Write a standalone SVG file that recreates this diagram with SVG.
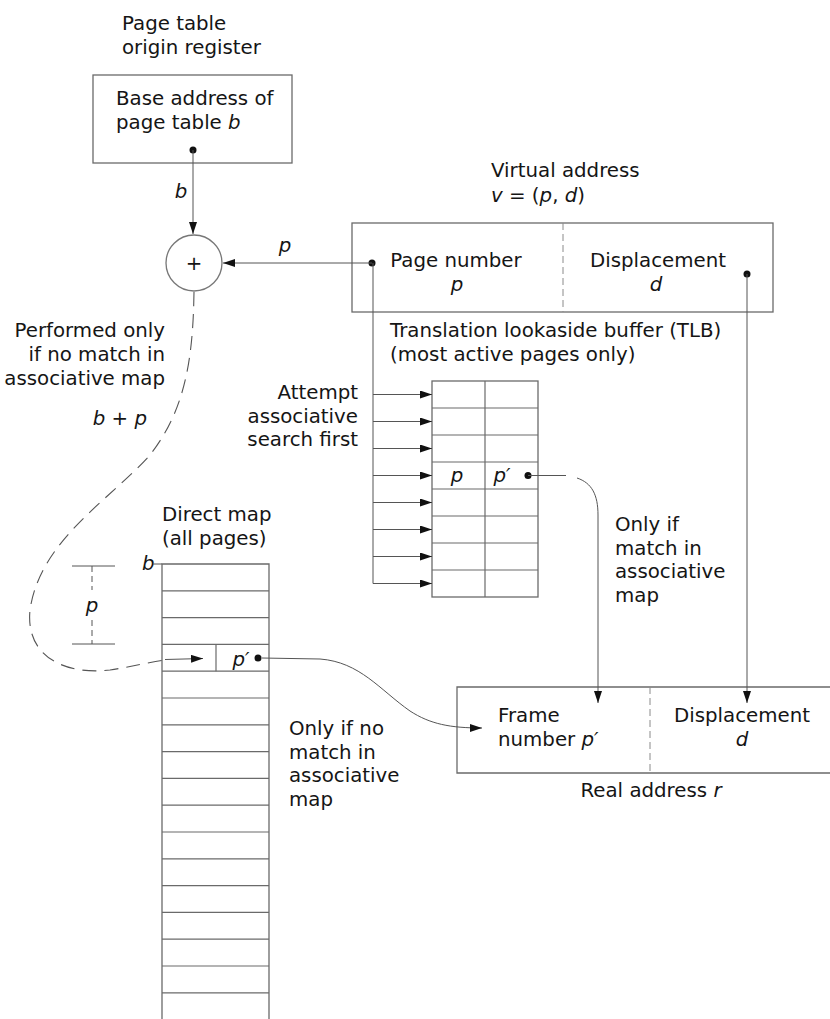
<svg xmlns="http://www.w3.org/2000/svg" width="830" height="1019" viewBox="0 0 830 1019">
<style>
text{font-family:"DejaVu Sans","Noto Sans","Liberation Sans",sans-serif;font-size:19.8px;fill:#151515}
.i{font-style:italic}
.box{fill:none;stroke:#6a6a6a;stroke-width:1.3}
.div{fill:none;stroke:#8a8a8a;stroke-width:1;stroke-dasharray:7 4}
.ln{fill:none;stroke:#555;stroke-width:1}
.dash{fill:none;stroke:#555;stroke-width:1.1;stroke-dasharray:14 8}
.row{stroke:#6a6a6a;stroke-width:1.2}
.dot{fill:#111}
</style>
<defs>
<marker id="ah" markerWidth="12" markerHeight="8" refX="12" refY="4" orient="auto" markerUnits="userSpaceOnUse"><path d="M0,0 L12,4 L0,8 z" fill="#111"/></marker>
</defs>

<g id="origin-register">
<text x="122" y="30">Page table<tspan x="122" dy="23.5">origin register</tspan></text>
<rect class="box" x="93" y="75" width="199" height="88"/>
<text x="116" y="105">Base address of<tspan x="116" dy="23.5">page table </tspan><tspan class="i">b</tspan></text>
<circle class="dot" cx="193" cy="150" r="3.5"/>
</g>

<g id="adder">
<circle cx="194" cy="263" r="28" fill="none" stroke="#777" stroke-width="1.3"/>
<text x="194" y="270" text-anchor="middle" font-size="18">+</text>
</g>

<g id="virtual-address">
<text x="491" y="177">Virtual address<tspan x="491" dy="25" class="i">v</tspan> = (<tspan class="i">p</tspan>, <tspan class="i">d</tspan>)</text>
<rect class="box" x="352" y="223" width="421" height="89"/>
<line class="div" x1="563" y1="223" x2="563" y2="312"/>
<text x="456" y="267" text-anchor="middle">Page number<tspan x="457" dy="23.5" class="i">p</tspan></text>
<text x="658" y="267" text-anchor="middle">Displacement<tspan x="656" dy="23.5" class="i">d</tspan></text>
<circle class="dot" cx="372" cy="263" r="3.5"/>
<circle class="dot" cx="747" cy="274" r="3.5"/>
</g>

<g id="tlb">
<text x="390" y="337">Translation lookaside buffer (TLB)<tspan x="390" dy="23.5">(most active pages only)</tspan></text>
<text x="358" y="399" text-anchor="end">Attempt<tspan x="358" dy="23.5">associative</tspan><tspan x="358" dy="23.5">search first</tspan></text>
<rect class="box" x="432" y="381" width="106" height="216"/>
<line class="row" x1="485" y1="381" x2="485" y2="597"/>
<g class="row">
<line x1="432" y1="408" x2="538" y2="408"/>
<line x1="432" y1="435" x2="538" y2="435"/>
<line x1="432" y1="462" x2="538" y2="462"/>
<line x1="432" y1="489" x2="538" y2="489"/>
<line x1="432" y1="516" x2="538" y2="516"/>
<line x1="432" y1="543" x2="538" y2="543"/>
<line x1="432" y1="570" x2="538" y2="570"/>
</g>
<text x="457" y="482" text-anchor="middle" class="i">p</text>
<text x="502" y="482" text-anchor="middle" class="i">p′</text>
<circle class="dot" cx="528" cy="475.5" r="3.5"/>
</g>

<g id="direct-map">
<text x="162" y="521">Direct map<tspan x="162" dy="23.5">(all pages)</tspan></text>
<text x="142" y="570" class="i">b</text>
<line class="ln" x1="153" y1="564" x2="162" y2="564"/>
<path class="box" d="M162,1020 V564 H269 V1020"/>
<g class="row">
<line x1="162" y1="590.8" x2="269" y2="590.8"/>
<line x1="162" y1="617.6" x2="269" y2="617.6"/>
<line x1="162" y1="644.4" x2="269" y2="644.4"/>
<line x1="162" y1="671.2" x2="269" y2="671.2"/>
<line x1="162" y1="698" x2="269" y2="698"/>
<line x1="162" y1="724.8" x2="269" y2="724.8"/>
<line x1="162" y1="751.6" x2="269" y2="751.6"/>
<line x1="162" y1="778.4" x2="269" y2="778.4"/>
<line x1="162" y1="805.2" x2="269" y2="805.2"/>
<line x1="162" y1="832" x2="269" y2="832"/>
<line x1="162" y1="858.8" x2="269" y2="858.8"/>
<line x1="162" y1="885.6" x2="269" y2="885.6"/>
<line x1="162" y1="912.4" x2="269" y2="912.4"/>
<line x1="162" y1="939.2" x2="269" y2="939.2"/>
<line x1="162" y1="966" x2="269" y2="966"/>
<line x1="162" y1="992.8" x2="269" y2="992.8"/>
<line x1="216" y1="644.4" x2="216" y2="671.2"/>
</g>
<text x="241" y="666" text-anchor="middle" class="i">p′</text>
<circle class="dot" cx="258" cy="658" r="3.5"/>
<line class="ln" x1="72" y1="566" x2="115" y2="566"/>
<line class="ln" x1="72" y1="644" x2="115" y2="644"/>
<line class="ln" x1="92" y1="566" x2="92" y2="590" stroke-dasharray="6 4"/>
<line class="ln" x1="92" y1="620" x2="92" y2="644" stroke-dasharray="6 4"/>
<text x="92" y="612" text-anchor="middle" class="i">p</text>
</g>

<g id="real-address">
<path class="box" d="M832,687 H457 V773 H832"/>
<line class="div" x1="650" y1="687" x2="650" y2="773"/>
<text x="498" y="722">Frame<tspan x="498" dy="24">number </tspan><tspan class="i">p′</tspan></text>
<text x="742" y="722" text-anchor="middle">Displacement<tspan x="742" dy="24" class="i">d</tspan></text>
<text x="651" y="797" text-anchor="middle">Real address <tspan class="i">r</tspan></text>
</g>

<g id="labels">
<text x="165" y="337" text-anchor="end">Performed only<tspan x="165" dy="24">if no match in</tspan><tspan x="165" dy="24">associative map</tspan></text>
<text x="147" y="425" text-anchor="end" class="i">b <tspan font-style="normal">+</tspan> p</text>
<text x="181" y="198" text-anchor="middle" class="i">b</text>
<text x="285" y="252" text-anchor="middle" class="i">p</text>
<text x="615" y="531">Only if<tspan x="615" dy="23.5">match in</tspan><tspan x="615" dy="23.5">associative</tspan><tspan x="615" dy="23.5">map</tspan></text>
<text x="289" y="735">Only if no<tspan x="289" dy="23.5">match in</tspan><tspan x="289" dy="23.5">associative</tspan><tspan x="289" dy="23.5">map</tspan></text>
</g>

<g id="connectors">
<line class="ln" x1="193" y1="150" x2="193" y2="234" marker-end="url(#ah)"/>
<line class="ln" x1="372" y1="263" x2="223" y2="263" marker-end="url(#ah)"/>
<line class="ln" x1="373" y1="263" x2="373" y2="583.5"/>
<line class="ln" x1="373" y1="394.5" x2="432" y2="394.5" marker-end="url(#ah)"/>
<line class="ln" x1="373" y1="421.5" x2="432" y2="421.5" marker-end="url(#ah)"/>
<line class="ln" x1="373" y1="448.5" x2="432" y2="448.5" marker-end="url(#ah)"/>
<line class="ln" x1="373" y1="475.5" x2="432" y2="475.5" marker-end="url(#ah)"/>
<line class="ln" x1="373" y1="502.5" x2="432" y2="502.5" marker-end="url(#ah)"/>
<line class="ln" x1="373" y1="529.5" x2="432" y2="529.5" marker-end="url(#ah)"/>
<line class="ln" x1="373" y1="556.5" x2="432" y2="556.5" marker-end="url(#ah)"/>
<line class="ln" x1="373" y1="583.5" x2="432" y2="583.5" marker-end="url(#ah)"/>
<line class="ln" x1="747" y1="274" x2="747" y2="703" marker-end="url(#ah)"/>
<path class="ln" d="M528,475.5 L566,475.5 M577,478 C592,483 598,495 598,515 L598,703" marker-end="url(#ah)"/>
<path class="dash" d="M194,292 C193,360 185,410 150,455 C110,500 40,540 30,610 C25,660 70,675 110,670 C130,667 150,662 165,660"/>
<line class="ln" x1="165" y1="659.5" x2="203" y2="658.5" marker-end="url(#ah)"/>
<path class="ln" d="M262,658 L320,659 C360,662 380,690 410,711 C430,724 450,728 482,728" marker-end="url(#ah)"/>
</g>
</svg>
